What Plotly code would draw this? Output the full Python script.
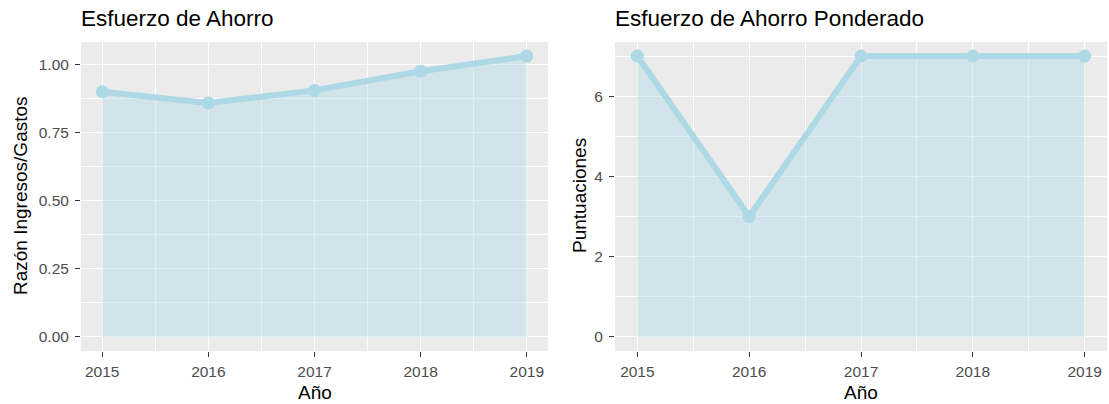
import plotly.graph_objects as go

# ---- data ----
years = [2015, 2016, 2017, 2018, 2019]
ratio_values = [0.900, 0.859, 0.905, 0.975, 1.031]
score_values = [7, 3, 7, 7, 7]
left_yticks = [0, 0.25, 0.50, 0.75, 1.00]
right_yticks = [0, 2, 4, 6]

title_left = "Esfuerzo de Ahorro"
title_right = "Esfuerzo de Ahorro Ponderado"
xlab = "Año"
ylab_left = "Razón Ingresos/Gastos"
ylab_right = "Puntuaciones"

W, H = 1109, 404
FONT = "Arial, Liberation Sans, sans-serif"
LINE_COL = "#ADD8E6"
FILL_COL = "rgba(173,216,230,0.40)"


def expand(lo, hi, f=0.05):
    d = hi - lo
    return [lo - d * f, hi + d * f]


xr = expand(min(years), max(years))
yr_left = expand(0, max(ratio_values))
yr_right = expand(0, max(score_values))

fig = go.Figure()
fig.add_trace(go.Scatter(
    x=years, y=ratio_values, mode="lines+markers", fill="tozeroy",
    fillcolor=FILL_COL, line=dict(color=LINE_COL, width=6),
    marker=dict(color=LINE_COL, size=13), xaxis="x", yaxis="y",
    showlegend=False, hoverinfo="x+y"))
fig.add_trace(go.Scatter(
    x=years, y=score_values, mode="lines+markers", fill="tozeroy",
    fillcolor=FILL_COL, line=dict(color=LINE_COL, width=6),
    marker=dict(color=LINE_COL, size=13), xaxis="x2", yaxis="y2",
    showlegend=False, hoverinfo="x+y"))

ydom = [53 / H, 362 / H]
tickfont = dict(family=FONT, size=15.5, color="#4D4D4D")
common_x = dict(
    range=xr, tickvals=years, ticktext=[str(y) for y in years],
    showgrid=True, gridcolor="white", gridwidth=1.2, zeroline=False,
    ticks="outside", ticklen=5, tickcolor="#333333", tickwidth=1.1,
    tickfont=tickfont, showline=False, ticklabelstandoff=1,
    minor=dict(dtick=0.5, tick0=2015, showgrid=True, gridcolor="white",
               gridwidth=0.6, ticks=""),
)
common_y = dict(
    showgrid=True, gridcolor="white", gridwidth=1.2, zeroline=False,
    ticks="outside", ticklen=5, tickcolor="#333333", tickwidth=1.1,
    tickfont=tickfont, showline=False, ticklabelstandoff=3,
)

fig.update_layout(
    width=W, height=H,
    margin=dict(l=0, r=0, t=0, b=0),
    paper_bgcolor="white", plot_bgcolor="#EBEBEB",
    xaxis=dict(domain=[81 / W, 548 / W], anchor="y", **common_x),
    xaxis2=dict(domain=[615 / W, 1107 / W], anchor="y2", **common_x),
    yaxis=dict(domain=ydom, anchor="x", range=yr_left, tickvals=left_yticks,
               tickformat=".2f",
               minor=dict(dtick=0.125, tick0=0, showgrid=True,
                          gridcolor="white", gridwidth=0.6, ticks=""),
               **common_y),
    yaxis2=dict(domain=ydom, anchor="x2", range=yr_right, tickvals=right_yticks,
                minor=dict(dtick=1, tick0=0, showgrid=True,
                           gridcolor="white", gridwidth=0.6, ticks=""),
                **common_y),
)

ann = []
titlefont = dict(family=FONT, size=22.5, color="black")
axfont = dict(family=FONT, size=19, color="black")
ann.append(dict(text=title_left, x=79 / W, y=(H - 18) / H, xref="paper", yref="paper",
                xanchor="left", yanchor="middle", showarrow=False, font=titlefont))
ann.append(dict(text=title_right, x=613 / W, y=(H - 18) / H, xref="paper", yref="paper",
                xanchor="left", yanchor="middle", showarrow=False, font=titlefont))
ann.append(dict(text=xlab, x=(81 + 548) / 2 / W, y=(H - 392) / H, xref="paper", yref="paper",
                xanchor="center", yanchor="middle", showarrow=False, font=axfont))
ann.append(dict(text=xlab, x=(615 + 1107) / 2 / W, y=(H - 392) / H, xref="paper", yref="paper",
                xanchor="center", yanchor="middle", showarrow=False, font=axfont))
ann.append(dict(text=ylab_left, x=20 / W, y=(H - 196) / H, xref="paper", yref="paper",
                xanchor="center", yanchor="middle", showarrow=False, font=axfont,
                textangle=-90))
ann.append(dict(text=ylab_right, x=579 / W, y=(H - 196) / H, xref="paper", yref="paper",
                xanchor="center", yanchor="middle", showarrow=False, font=axfont,
                textangle=-90))
fig.update_layout(annotations=ann)

fig.write_html("out.html", config={"displayModeBar": False},
               post_script="document.body.style.margin='0px';")
